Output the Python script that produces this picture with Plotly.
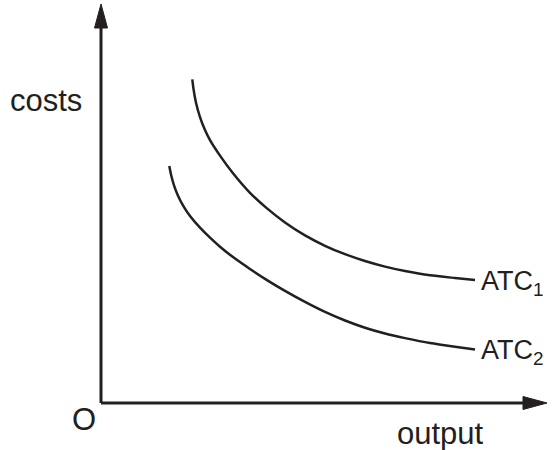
import plotly.graph_objects as go

# Data (output units, cost units)
atc1_output = [91.3, 92.5, 95, 99, 104, 109, 119, 132, 149, 166, 184, 204, 224, 244, 264, 284, 304, 329, 354, 374]
atc1_cost = [323.7, 314.1, 300.3, 285.9, 272.9, 262.9, 247.4, 229.8, 210.2, 194.6, 180.6, 167.6, 157.2,
             148.8, 142, 136.4, 132, 127.7, 125, 123]
atc2_output = [68.3, 70, 73, 77, 83, 90, 99, 109, 119, 132, 149, 166, 184, 204, 224, 244, 264, 284, 304, 329, 354, 374]
atc2_cost = [237, 228.5, 217.7, 207.3, 195.9, 185.7, 175.3, 165.3, 156.3, 145.9, 134, 122.9, 112.1, 101.1,
             91.1, 82.5, 75.3, 69.5, 64.9, 59.9, 56.2, 53.6]
curve_labels = ["ATC<sub>1</sub>", "ATC<sub>2</sub>"]
axis_titles = ["costs", "output", "O"]

INK = "#231F20"
FONT = "Liberation Sans, Arial, Helvetica, sans-serif"

fig = go.Figure()
for xs, ys in [(atc1_output, atc1_cost), (atc2_output, atc2_cost)]:
    fig.add_trace(go.Scatter(x=xs, y=ys, mode="lines",
                             line=dict(color=INK, width=2.5, shape="spline", smoothing=0.6),
                             hoverinfo="skip", showlegend=False))

# axes with arrowheads
Y_TOP, X_END = 399, 446
fig.add_shape(type="line", x0=0, y0=0, x1=0, y1=Y_TOP - 24, line=dict(color=INK, width=3))
fig.add_shape(type="line", x0=0, y0=0, x1=X_END - 24, y1=0, line=dict(color=INK, width=3))
fig.add_shape(type="path", path=f"M -6.5 {Y_TOP-24} L 6.5 {Y_TOP-24} L 0 {Y_TOP} Z",
              fillcolor=INK, line=dict(color=INK, width=1))
fig.add_shape(type="path", path=f"M {X_END-24} -6.5 L {X_END-24} 6.5 L {X_END} 0 Z",
              fillcolor=INK, line=dict(color=INK, width=1))

# curve labels
for xs, ys, lab in [(atc1_output, atc1_cost, curve_labels[0]), (atc2_output, atc2_cost, curve_labels[1])]:
    fig.add_annotation(x=xs[-1], y=ys[-1], text=lab, showarrow=False, xanchor="left",
                       yanchor="middle", xshift=4, yshift=-3,
                       font=dict(size=27, color=INK, family=FONT))

fig.add_annotation(x=-55, y=303, text=axis_titles[0], showarrow=False, xanchor="center",
                   yanchor="middle", font=dict(size=31, color=INK, family=FONT))
fig.add_annotation(x=339, y=-30, text=axis_titles[1], showarrow=False, xanchor="center",
                   yanchor="middle", font=dict(size=31, color=INK, family=FONT))
fig.add_annotation(x=-17, y=-16, text=axis_titles[2], showarrow=False, xanchor="center",
                   yanchor="middle", font=dict(size=31, color=INK, family=FONT))

fig.update_layout(width=554, height=450, margin=dict(l=0, r=0, t=0, b=0),
                  paper_bgcolor="white", plot_bgcolor="white",
                  xaxis=dict(range=[-101, 453], visible=False, fixedrange=True),
                  yaxis=dict(range=[-47, 403], visible=False, fixedrange=True),
                  showlegend=False)
fig.write_html("out.html", config={"displayModeBar": False},
               post_script="document.body.style.margin='0';document.body.style.padding='0';")
